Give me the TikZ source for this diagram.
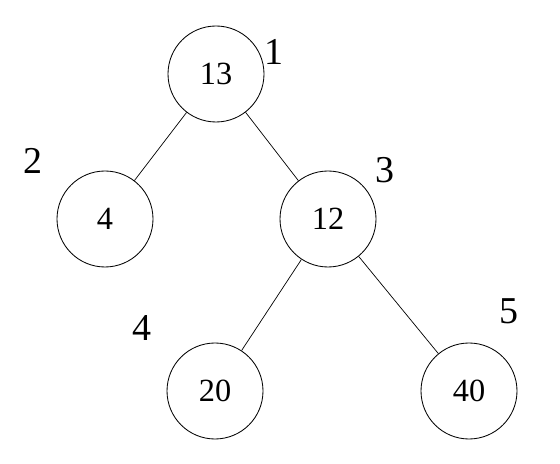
\documentclass[tikz,border=0pt]{standalone}
\usepackage{fontspec}
\setmainfont{Liberation Serif}
\usepackage{tikz}
\usetikzlibrary{positioning}

\tikzset{
    vertex/.style={circle,draw,line width=0.6pt,minimum size=2.4cm,inner sep=0pt,font=\fontsize{23}{25}\selectfont},
    rank/.style={font=\fontsize{27}{29}\selectfont,inner sep=0pt}
}

\begin{document}
\begin{tikzpicture}
\useasboundingbox (0,0) rectangle (14,11.575);
% tree nodes
\node[vertex] (n13) at (5.4,9.725) {13};
\node[vertex] (n4)  at (2.625,6.1) {4};
\node[vertex] (n12) at (8.2,6.1) {12};
\node[vertex] (n20) at (5.375,1.8) {20};
\node[vertex] (n40) at (11.725,1.8) {40};
% position labels
\node[rank] (r1) at (6.85,10.275) {1};
\node[rank] (r2) at (0.825,7.55) {2};
\node[rank] (r3) at (9.625,7.325) {3};
\node[rank] (r4) at (3.55,3.375) {4};
\node[rank] (r5) at (12.725,3.8) {5};
% edges
\draw[line width=0.5pt] (n13) -- (n4);
\draw[line width=0.5pt] (n13) -- (n12);
\draw[line width=0.5pt] (n12) -- (n20);
\draw[line width=0.5pt] (n12) -- (n40);
\end{tikzpicture}
\end{document}
